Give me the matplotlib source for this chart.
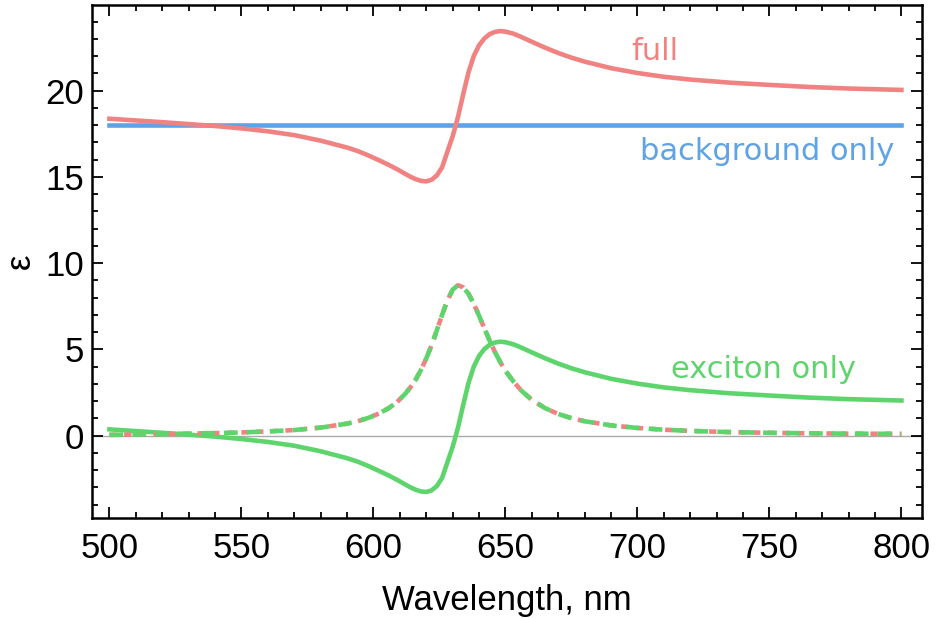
import matplotlib
matplotlib.use("Agg")
import matplotlib.pyplot as plt
from matplotlib.ticker import MultipleLocator

# wavelength grid (nm) and values
wl = [500, 510, 520, 530, 540, 550, 560, 570, 580, 590,
      594, 598, 602, 606, 609, 612,
      614, 616, 618, 620, 622, 624, 626, 628, 630, 632, 634, 636, 638, 640,
      642, 644, 646, 648, 650,
      653, 656, 660, 665, 670, 675, 680, 690, 700, 710, 720, 735, 750, 765,
      780, 800]

eps_full = [18.37, 18.27, 18.17, 18.06, 17.95, 17.81, 17.64, 17.42, 17.10, 16.70,
            16.50, 16.25, 15.97, 15.68, 15.44, 15.18,
            15.01, 14.87, 14.77, 14.74, 14.83, 15.08, 15.55, 16.45, 17.35, 18.45,
            19.78, 21.05, 22.00, 22.62, 23.02, 23.27, 23.40, 23.45, 23.42,
            23.30, 23.11, 22.83, 22.49, 22.18, 21.91, 21.68, 21.30, 21.02, 20.80,
            20.64, 20.46, 20.33, 20.21, 20.12, 20.04]

eps_exc = [0.37, 0.27, 0.17, 0.06, -0.05, -0.19, -0.36, -0.58, -0.90, -1.30,
           -1.50, -1.75, -2.03, -2.32, -2.56, -2.82,
           -2.99, -3.13, -3.23, -3.26, -3.17, -2.92, -2.45, -1.55, -0.65, 0.45,
           1.78, 3.05, 4.00, 4.62, 5.02, 5.27, 5.40, 5.45, 5.42,
           5.30, 5.11, 4.83, 4.49, 4.18, 3.91, 3.68, 3.30, 3.02, 2.80,
           2.64, 2.46, 2.33, 2.21, 2.12, 2.04]

eps_imag = [0.05, 0.07, 0.09, 0.12, 0.15, 0.19, 0.25, 0.33, 0.47, 0.70,
            0.84, 1.03, 1.28, 1.62, 1.96, 2.42,
            2.80, 3.25, 3.81, 4.47, 5.23, 6.10, 7.00, 7.83, 8.46, 8.72,
            8.60, 8.23, 7.65, 6.96, 6.23, 5.52, 4.86, 4.28, 3.76,
            3.15, 2.62, 2.08, 1.60, 1.26, 1.02, 0.84, 0.60, 0.45, 0.35,
            0.28, 0.21, 0.17, 0.14, 0.12, 0.11]

eps_bg = 18.0

red = "#f08282"
blue = "#5ea3e6"
green = "#5ed46c"

plt.rcParams["font.family"] = ["Liberation Sans", "DejaVu Sans"]

fig = plt.figure(figsize=(9.37, 6.18), dpi=100)
ax = fig.add_axes([0.0982, 0.1623, 0.8855, 0.8296])

lw = 3.3
ax.axhline(0, color="#aaaaaa", lw=1.0, zorder=1)
ax.plot([wl[0], wl[-1]], [eps_bg, eps_bg], color=blue, lw=lw, zorder=2)
ax.plot(wl, eps_full, color=red, lw=lw, zorder=3, solid_joinstyle="round")
ax.plot(wl, eps_exc, color=green, lw=lw, zorder=3, solid_joinstyle="round")
# imaginary part: full and exciton coincide, drawn as two interleaved dashed lines
ax.plot(wl, eps_imag, color=red, lw=lw, dashes=(1.6, 1.6), zorder=3)
ax.plot(wl, eps_imag, color=green, lw=lw, dashes=(3.0, 2.0), zorder=4)

lab_kw = dict(ha="center", va="baseline", fontsize=22, family="DejaVu Sans")
ax.text(706.6, 21.78, "full", color=red, **lab_kw)
ax.text(749.0, 15.98, "background only", color=blue, **lab_kw)
ax.text(747.6, 3.33, "exciton only", color=green, **lab_kw)

ax.set_xlim(493.4, 807.7)
ax.set_ylim(-4.75, 24.96)
ax.xaxis.set_major_locator(MultipleLocator(50))
ax.xaxis.set_minor_locator(MultipleLocator(10))
ax.yaxis.set_major_locator(MultipleLocator(5))
ax.yaxis.set_minor_locator(MultipleLocator(1))
ax.tick_params(which="both", direction="in", top=True, right=True,
               labelsize=25, width=1.3, colors="black")
ax.tick_params(which="major", length=8)
ax.tick_params(which="minor", length=4.5)
ax.tick_params(axis="x", which="major", pad=10)
ax.tick_params(axis="y", which="major", pad=6)
for s in ax.spines.values():
    s.set_linewidth(1.8)

ax.set_xlabel("Wavelength, nm", fontsize=25, labelpad=14)
ax.set_ylabel("ε", fontsize=25)
ax.yaxis.set_label_coords(-0.066, 0.5)

fig.savefig("out.png", dpi=100)
